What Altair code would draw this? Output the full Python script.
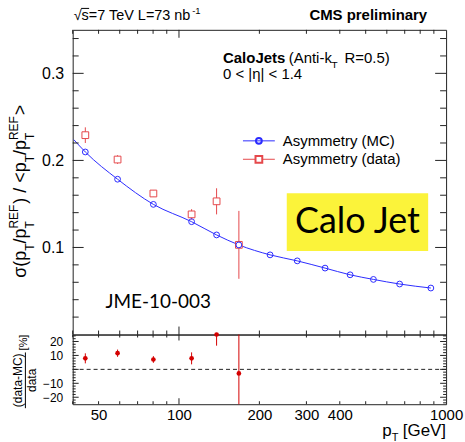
import altair as alt
import pandas as pd

# ---------------- data ----------------
pt_mc = [44.6, 58.9, 80.2, 111.5, 138.3, 167.6, 219.3, 277.2, 352.3, 437.2, 534.5, 670.0, 877.0]
asym_mc = [0.2097, 0.1784, 0.1495, 0.1296, 0.1144, 0.1029, 0.0915, 0.0846, 0.0763, 0.0686, 0.0633, 0.0580, 0.0534]

fit_pt = [40.4, 44.6, 58.9, 80.2, 111.5, 138.3, 167.6, 219.3, 277.2, 352.3, 437.2, 534.5, 670.0, 877.0]
fit_val = [0.2238, 0.2097, 0.1784, 0.1495, 0.1296, 0.1144, 0.1029, 0.0915, 0.0846, 0.0763, 0.0686, 0.0633, 0.0580, 0.0534]

pt_data = [44.6, 58.9, 80.2, 111.5, 138.3, 167.6]
asym_data = [0.229, 0.201, 0.162, 0.138, 0.153, 0.103]
asym_data_err = [0.009, 0.005, 0.004, 0.006, 0.015, 0.039]

ratio = [7.9, 11.6, 7.1, 7.9, 25.0, -2.9]
ratio_err = [3.6, 2.6, 2.4, 4.3, 8.0, 40.0]

x_labels = [50, 100, 200, 300, 400, 1000]
x_minor = [40, 50, 60, 70, 80, 90, 200, 300, 400, 500, 600, 700, 800, 900]
x_major = [100]
y_main_labels = [0.1, 0.2, 0.3]
y_main_major = [0.1, 0.2, 0.3]
y_main_minor = [0.02, 0.04, 0.06, 0.08, 0.12, 0.14, 0.16, 0.18, 0.22, 0.24, 0.26, 0.28, 0.32, 0.34]
y_ratio_labels = [-20, -10, 10, 20]
y_ratio_major = [-20, -10, 0, 10, 20]
y_ratio_minor = [-24, -22, -18, -16, -14, -12, -8, -6, -4, -2, 2, 4, 6, 8, 12, 14, 16, 18, 22, 24]

# ---------------- style ----------------
FONT = "Liberation Sans"
BLUE = "#2b2bff"
RED = "#e5484b"
DARKRED = "#d40000"
FRAME = "#222222"
W, HM, HR = 375, 306, 70

XS = alt.Scale(type="log", domain=[40, 1000], nice=False)
YM = alt.Scale(domain=[0, 0.35], nice=False, zero=False)
YR = alt.Scale(domain=[-25, 25], nice=False, zero=False)

YAX_M = alt.Axis(values=y_main_labels, format=".1f", labelFontSize=16, labelPadding=9,
                 title=None, domain=False, ticks=False, grid=False)
YAX_R = alt.Axis(values=y_ratio_labels, format="d", labelFontSize=12, labelPadding=10,
                 title=None, domain=False, ticks=False, grid=False)
XAX_R = alt.Axis(values=x_labels, format="d", labelFontSize=15, labelPadding=3, labelFlush=False,
                 labelOverlap=False, title=None, domain=False, ticks=False, grid=False)

one = pd.DataFrame({"k": [0]})


def text(t, x, y, size, font=FONT, align="left", baseline="alphabetic", weight="normal",
         angle=None, color="black"):
    kw = dict(text=t, fontSize=size, font=font, align=align, baseline=baseline,
              fontWeight=weight, color=color)
    if angle is not None:
        kw["angle"] = angle
    return alt.Chart(one).mark_text(**kw).encode(x=alt.value(x), y=alt.value(y))


def xtick_layers(vals, length, H, xaxis):
    df = pd.DataFrame({"v": vals})
    base = alt.Chart(df).mark_rule(color=FRAME, strokeWidth=1)
    xe = alt.X("v:Q", scale=XS, axis=xaxis)
    return [base.encode(x=xe, y=alt.value(0), y2=alt.value(length)),
            base.encode(x=xe, y=alt.value(H), y2=alt.value(H - length))]


def ytick_layers(vals, length, yscale, yaxis):
    df = pd.DataFrame({"v": vals})
    base = alt.Chart(df).mark_rule(color=FRAME, strokeWidth=1)
    ye = alt.Y("v:Q", scale=yscale, axis=yaxis)
    return [base.encode(y=ye, x=alt.value(0), x2=alt.value(length)),
            base.encode(y=ye, x=alt.value(W), x2=alt.value(W - length))]


def anchor(x, y):
    return alt.Chart(one).mark_rule(color="white", strokeWidth=0.5).encode(
        x=alt.value(x), x2=alt.value(x), y=alt.value(y), y2=alt.value(y))


# ---------------- main panel ----------------
df_fit = pd.DataFrame({"pt": fit_pt, "v": fit_val})
df_mc = pd.DataFrame({"pt": pt_mc, "v": asym_mc})
df_data = pd.DataFrame({"pt": pt_data, "v": asym_data, "e": asym_data_err})

X_M = alt.X("pt:Q", scale=XS, axis=None)

fit_line = alt.Chart(df_fit).mark_line(color=BLUE, strokeWidth=1, interpolate="monotone").encode(
    x=X_M, y=alt.Y("v:Q", scale=YM, axis=YAX_M))
data_err = alt.Chart(df_data).transform_calculate(
    lo="datum.v - datum.e", hi="datum.v + datum.e").mark_rule(color=RED, strokeWidth=1).encode(
    x=X_M, y=alt.Y("lo:Q", scale=YM, axis=YAX_M), y2="hi:Q")
data_pts = alt.Chart(df_data).mark_point(shape="square", filled=False, fill="white", fillOpacity=1,
                                         color=RED, size=46, strokeWidth=1, opacity=1).encode(
    x=X_M, y=alt.Y("v:Q", scale=YM, axis=YAX_M))
mc_pts = alt.Chart(df_mc).mark_point(shape="circle", filled=False, color=BLUE, size=34,
                                     strokeWidth=1, opacity=1).encode(
    x=X_M, y=alt.Y("v:Q", scale=YM, axis=YAX_M))

box = alt.Chart(one).mark_rect(color="#fbf33a").encode(
    x=alt.value(215), x2=alt.value(357), y=alt.value(164), y2=alt.value(222))

legend = [
    alt.Chart(one).mark_rule(color=BLUE, strokeWidth=1).encode(
        x=alt.value(171), x2=alt.value(203), y=alt.value(111.5)),
    alt.Chart(one).mark_point(shape="circle", filled=False, color=BLUE, size=34, opacity=1).encode(
        x=alt.value(187), y=alt.value(111.5)),
    alt.Chart(one).mark_rule(color=RED, strokeWidth=1).encode(
        x=alt.value(171), x2=alt.value(203), y=alt.value(130)),
    alt.Chart(one).mark_point(shape="square", filled=False, fill="white", fillOpacity=1, color=RED,
                              size=46, opacity=1).encode(x=alt.value(187), y=alt.value(130)),
    text("Asymmetry (MC)", 211, 111.5, 15, baseline="middle"),
    text("Asymmetry (data)", 211, 130, 15, baseline="middle"),
]

# y-axis title built from fragments (rotated)
CW = {"σ": 0.617, "(": 0.333, "p": 0.556, "/": 0.278, ")": 0.333, " ": 0.278,
      "<": 0.584, ">": 0.584, "T": 0.611, "R": 0.722, "E": 0.667, "F": 0.611}
MAIN_S, SUB_S = 18, 12
XB_MAIN, XB_SUB, XB_SUP = -47, -39, -55


def wid(s, size):
    return sum(CW[c] for c in s) * size


frags = [("m", "σ(p"), ("b", "T"), ("m", "/p"), ("bs", None), ("m", ") / <p"),
         ("b", "T"), ("m", "/p"), ("bs", None), ("m", ">")]
ytitle = []
pos = 249.0
for kind, s in frags:
    if kind == "m":
        ytitle.append(text(s, XB_MAIN, pos, MAIN_S, angle=270))
        pos -= wid(s, MAIN_S)
    elif kind == "b":
        ytitle.append(text(s, XB_SUB, pos, SUB_S, angle=270))
        pos -= wid(s, SUB_S)
    else:
        ytitle.append(text("T", XB_SUB, pos, SUB_S, angle=270))
        ytitle.append(text("REF", XB_SUP, pos, SUB_S, angle=270))
        pos -= wid("REF", SUB_S) + 1

header = [
    text("√s=7 TeV L=73 nb", 1, -9.5, 14.5),
    alt.Chart(one).mark_rule(color="black", strokeWidth=1).encode(
        x=alt.value(8.5), x2=alt.value(16.5), y=alt.value(-21.5)),
    text("-1", 1 + 119, -15.5, 9.5),
    text("CMS preliminary", 356, -9.5, 15, align="right", weight="bold"),
]

CJ_X, CJ_Y, CJ_S = 151, 33.5, 15
labels = [
    text("CaloJets", CJ_X, CJ_Y, CJ_S, weight="bold"),
    text("(Anti-k", CJ_X + 66, CJ_Y, CJ_S),
    text("T", CJ_X + 66 + 43, CJ_Y + 5, 10),
    text("R=0.5)", CJ_X + 66 + 43 + 13, CJ_Y, CJ_S),
    text("0 < |η| < 1.4", CJ_X, 49.5, CJ_S),
    text("Calo Jet", 286, 204, 36, font="Lato", align="center"),
    text("JME-10-003", 33, 279, 19, font="Lato"),
]

main_layers = ([fit_line, data_err, data_pts, mc_pts, box]
               + xtick_layers(x_minor, 4, HM, None) + xtick_layers(x_major, 8, HM, None)
               + ytick_layers(y_main_minor, 6, YM, YAX_M) + ytick_layers(y_main_major, 11, YM, YAX_M)
               + legend + ytitle + header + labels + [anchor(-72, -28)])
main = alt.layer(*main_layers).properties(width=W, height=HM)

# ---------------- ratio panel ----------------
df_ratio = pd.DataFrame({"pt": pt_data, "r": ratio, "e": ratio_err})
X_R = alt.X("pt:Q", scale=XS, axis=XAX_R)

zero_line = alt.Chart(pd.DataFrame({"z": [0]})).mark_rule(
    color="#222222", strokeDash=[4, 3], strokeWidth=1).encode(
    y=alt.Y("z:Q", scale=YR, axis=YAX_R))
r_err = alt.Chart(df_ratio).transform_calculate(
    lo="datum.r - datum.e", hi="datum.r + datum.e").mark_rule(
    color=DARKRED, strokeWidth=1, clip=True).encode(
    x=X_R, y=alt.Y("lo:Q", scale=YR, axis=YAX_R), y2="hi:Q")
r_pts = alt.Chart(df_ratio).mark_circle(color=DARKRED, size=22, opacity=1).encode(
    x=X_R, y=alt.Y("r:Q", scale=YR, axis=YAX_R))

ratio_title = [
    text("(data-MC)", -50.5, 46, 12, align="center", angle=270),
    alt.Chart(one).mark_rule(color="black", strokeWidth=1).encode(
        x=alt.value(-47.5), y=alt.value(18), y2=alt.value(74)),
    text("data", -36.5, 46, 12, align="center", angle=270),
    text("[%]", -46, 8, 11, align="center", angle=270),
]

xtitle = [
    text("p", 311, 102, 17),
    text("T", 320.5, 107, 11),
    text("[GeV]", 375, 102, 17, align="right"),
]

ratio_layers = ([zero_line, r_err, r_pts]
                + xtick_layers(x_minor, 3, HR, XAX_R) + xtick_layers(x_major, 6, HR, XAX_R)
                + ytick_layers(y_ratio_minor, 3, YR, YAX_R) + ytick_layers(y_ratio_major, 6, YR, YAX_R)
                + ratio_title + xtitle + [anchor(W + 18, HR + 38)])
ratio_chart = alt.layer(*ratio_layers).properties(width=W, height=HR)

chart = alt.vconcat(main, ratio_chart, spacing=0, bounds="flush").properties(
    padding=0
).configure_view(stroke=FRAME, strokeWidth=1).configure_axis(
    labelFont=FONT, labelColor="black"
).configure_text(font=FONT)

chart.save("out.html", embed_options={"renderer": "svg", "actions": False})
